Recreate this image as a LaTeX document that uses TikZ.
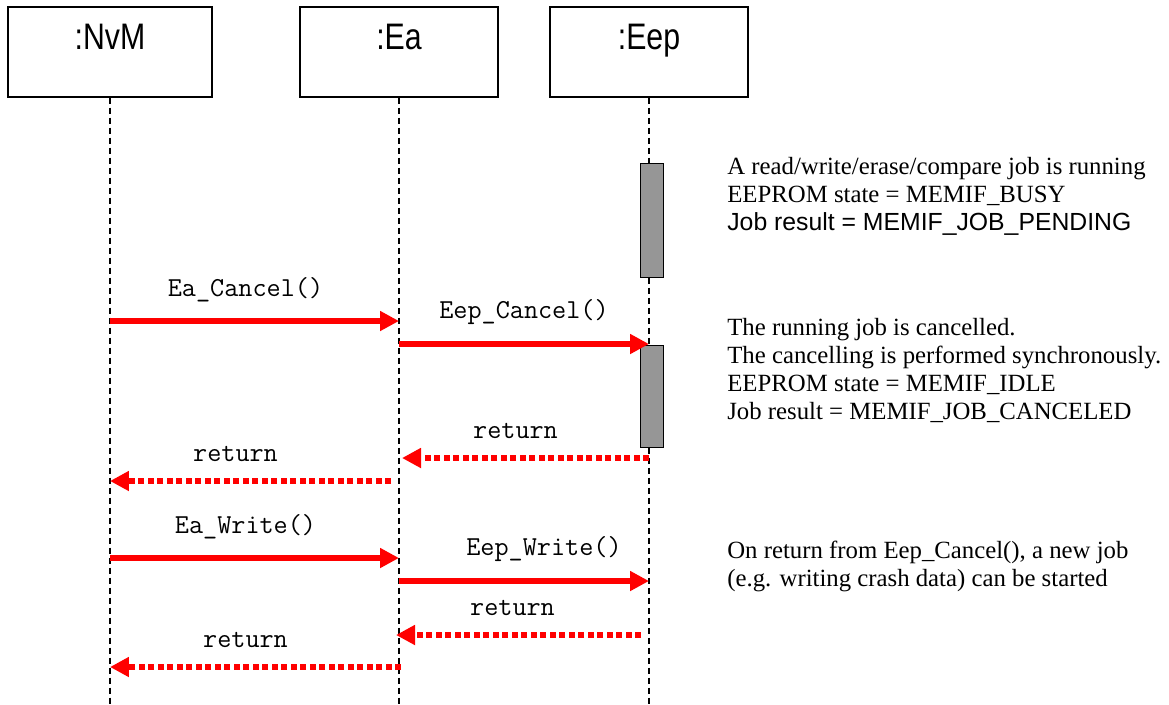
\documentclass[tikz,border=0pt]{standalone}
\usepackage{fontspec}
\setmainfont{Liberation Serif}
\setsansfont{Liberation Sans}
\usepackage{tikz}
\usetikzlibrary{arrows.meta, positioning, calc}
\usepackage{xcolor}
\definecolor{msgcolor}{HTML}{FF0000}
\definecolor{barcolor}{HTML}{969696}
\newcommand{\objname}[1]{\scalebox{0.82}[1]{\fontsize{21}{24}\selectfont\sffamily #1}}

\begin{document}
\begin{tikzpicture}[
    x=0.02cm, y=-0.02cm,
    object/.style={draw, line width=0.8pt, minimum height=1.8cm, inner sep=0pt},
    lifeline/.style={line width=1.5pt, dash pattern=on 0.12cm off 0.08cm},
    activation/.style={draw, fill=barcolor, minimum width=0.46cm, inner sep=0pt},
    call/.style={draw=msgcolor, line width=2.9pt, -{Triangle[length=0.38cm, width=0.38cm]}},
    reply/.style={call, dash pattern=on 0.12cm off 0.07cm},
    msg/.style={font=\fontsize{15.6}{18}\selectfont\ttfamily, above=6pt},
    note/.style={anchor=north west, align=left, inner sep=0pt, font=\fontsize{14.1}{15.9}\selectfont},
]
\useasboundingbox (0,0) rectangle (1169,704);

% objects
\node[object, minimum width=4.08cm, label={[anchor=north, yshift=-0.24cm]north:\objname{:NvM}}] (nvm) at (110, 52) {};
\node[object, minimum width=3.96cm, label={[anchor=north, yshift=-0.24cm]north:\objname{:Ea}}] (ea) at (399, 52) {};
\node[object, minimum width=3.96cm, label={[anchor=north, yshift=-0.24cm]north:\objname{:Eep}}] (eep) at (649, 52) {};
\coordinate (bottom) at (0, 704);

% lifelines
\foreach \obj in {nvm, ea, eep}
    \draw[lifeline] (\obj.south) -- (\obj.south |- bottom);

% activations of Eep
\node[activation, minimum height=2.28cm] (busy) at (651.5, 220) {};
\node[activation, minimum height=2.04cm] (cancel) at (651.5, 396) {};

% cancel sequence
\draw[call] (nvm.south |- 0,321) -- node[msg, xshift=-0.18cm] {Ea\_Cancel()} (ea.south |- 0,321);
\draw[call] (ea.south |- 0,344) -- node[msg] {Eep\_Cancel()} (eep.south |- 0,344);
\draw[reply] (eep.south |- 0,458) -- node[msg, xshift=-0.2cm] {return} ($(ea.south |- 0,458)+(3,0)$);
\draw[reply] ($(ea.south |- 0,481)+(-8,0)$) -- node[msg, xshift=-0.3cm] {return} (nvm.south |- 0,481);

% new write job
\draw[call] (nvm.south |- 0,558) -- node[msg, xshift=-0.18cm] {Ea\_Write()} (ea.south |- 0,558);
\draw[call] (ea.south |- 0,581) -- node[msg, xshift=0.4cm] {Eep\_Write()} (eep.south |- 0,581);
\draw[reply] ($(eep.south |- 0,635)+(-8,0)$) -- node[msg, xshift=-0.12cm] {return} ($(ea.south |- 0,635)+(-3,0)$);
\draw[reply] ($(ea.south |- 0,667)+(2,0)$) -- node[msg, xshift=-0.2cm] {return} (nvm.south |- 0,667);

% notes
\node[note] (busynote) at (727, 157) {A read/write/erase/compare job is running\\
    EEPROM state = MEMIF\_BUSY\\
    {\sffamily Job result = MEMIF\_JOB\_PENDING}};
\node[note] (cancelnote) at (727, 318) {The running job is cancelled.\\
    The cancelling is performed synchronously.\\
    EEPROM state = MEMIF\_IDLE\\
    Job result = MEMIF\_JOB\_CANCELED};
\node[note] (writenote) at (727, 541) {On return from Eep\_Cancel(), a new job\\
    (e.g. writing crash data) can be started};

\end{tikzpicture}
\end{document}
